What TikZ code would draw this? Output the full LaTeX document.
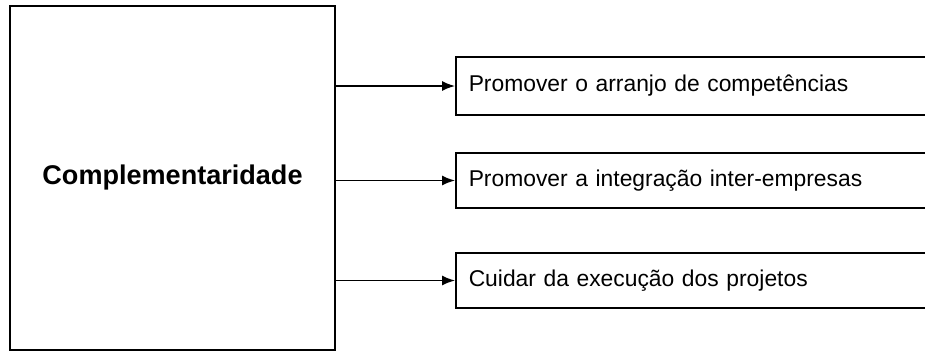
\documentclass[tikz,border=0pt]{standalone}
\usepackage{fontspec}
\setmainfont{Liberation Sans}
\usetikzlibrary{arrows.meta, positioning}

\begin{document}
\begin{tikzpicture}[x=0.02cm, y=-0.02cm, every node/.style={align=center},
    >={Latex[length=2.6mm, width=2mm]}, line width=0.85pt]
        \useasboundingbox (0,0) rectangle (925,352);
        \node[draw, minimum width=6.5cm, minimum height=6.88cm, font=\bfseries\fontsize{15.4}{18}\selectfont] (comp) at (172.5,178) {Complementaridade};
        \node[draw, anchor=west, align=left, inner xsep=0.26cm, text width=9.48cm, minimum height=1.16cm, font=\fontsize{13}{15}\selectfont] (arranjo) at (455,86) {Promover o arranjo de competências};
        \node[draw, anchor=west, align=left, inner xsep=0.26cm, text width=9.48cm, minimum height=1.1cm, font=\fontsize{13}{15}\selectfont] (integra) at (455,180.5) {Promover a integração inter-empresas};
        \node[draw, anchor=west, align=left, inner xsep=0.26cm, text width=9.48cm, minimum height=1.1cm, font=\fontsize{13}{15}\selectfont] (execucao) at (455,280.5) {Cuidar da execução dos projetos};

        \draw[->] (comp.east |- arranjo.west) -- (arranjo.west);
        \draw[->] (comp.east |- integra.west) -- (integra.west);
        \draw[->] (comp.east |- execucao.west) -- (execucao.west);
    \end{tikzpicture}
\end{document}
